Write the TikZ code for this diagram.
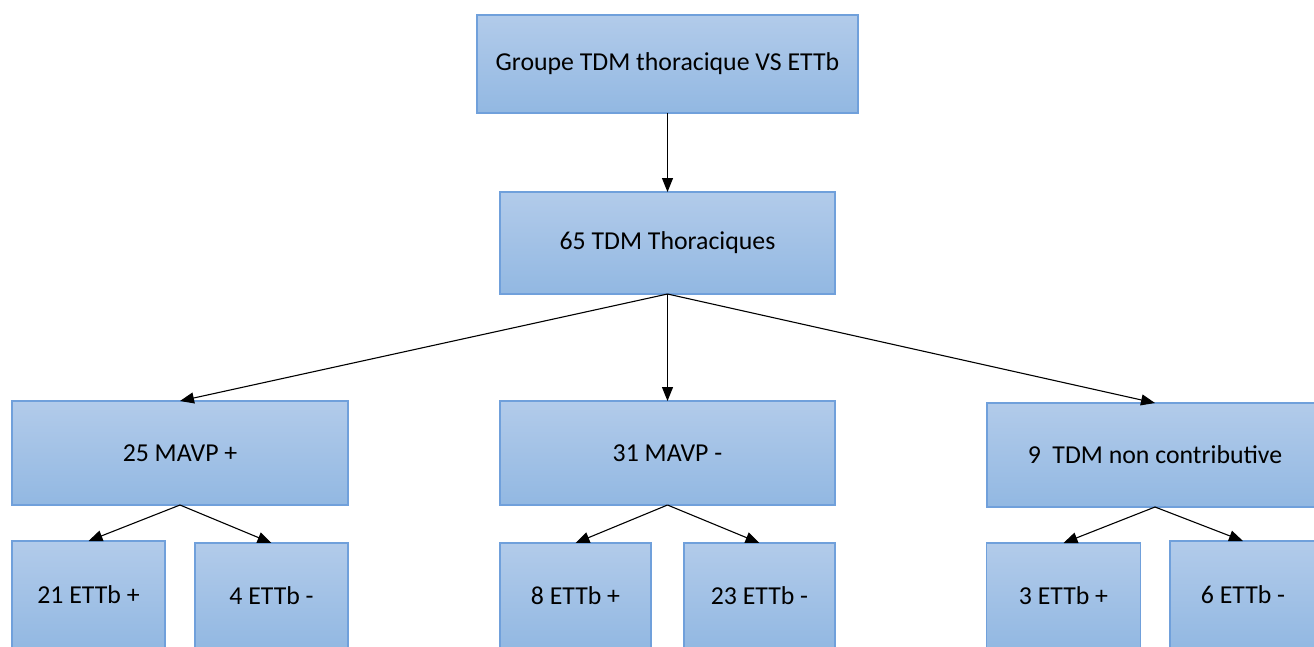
\documentclass[tikz,border=0pt]{standalone}
\usepackage{fontspec}
\setmainfont{Carlito}
\usetikzlibrary{arrows.meta}
\definecolor{boxtop}{RGB}{178,203,234}
\definecolor{boxbot}{RGB}{146,184,226}
\definecolor{boxline}{RGB}{112,160,219}
\tikzset{
  box/.style={rectangle, draw=boxline, line width=1.2pt, top color=boxtop, bottom color=boxbot,
    inner sep=0pt, outer sep=0pt, font=\fontsize{25.8}{30}\selectfont, text=black},
  conn/.style={line width=1.1pt, -{Triangle[length=14pt,width=11pt]}}
}
\begin{document}
\begin{tikzpicture}[x=1pt,y=-1pt]
\useasboundingbox (0,0) rectangle (1314,646);
\clip (0,0) rectangle (1314,646);
\fill[white] (0,0) rectangle (1314,646);
% nodes
\node[box, minimum width=381pt, minimum height=98pt] (top) at (667.5,64) {Groupe TDM thoracique VS ETTb};
\node[box, minimum width=335pt, minimum height=102pt] (tdm) at (667.5,243) {65 TDM Thoraciques};
\node[box, minimum width=336pt, minimum height=104pt] (mp) at (180,453) {25 MAVP +};
\node[box, minimum width=335pt, minimum height=104pt] (mm) at (667.5,453) {31 MAVP -};
\node[box, minimum width=336pt, minimum height=104pt] (nc) at (1155,455) {9\ \ TDM non contributive};
\node[box, minimum width=153pt, minimum height=108pt] (a1) at (88.5,595) {21 ETTb +};
\node[box, minimum width=153pt, minimum height=106pt] (a2) at (271.5,596) {4 ETTb -};
\node[box, minimum width=151pt, minimum height=106pt] (b1) at (575.5,596) {8 ETTb +};
\node[box, minimum width=151pt, minimum height=106pt] (b2) at (759.5,596) {23 ETTb -};
\node[box, minimum width=154pt, minimum height=106pt] (c1) at (1063.5,596) {3 ETTb +};
\node[box, minimum width=146pt, minimum height=108pt] (c2) at (1243,595) {6 ETTb -};
% connectors
\draw[conn] (top.south) -- (tdm.north);
\draw[conn] (tdm.south) -- (mp.north);
\draw[conn] (tdm.south) -- (mm.north);
\draw[conn] (tdm.south) -- (nc.north);
\draw[conn] (mp.south) -- (a1.north);
\draw[conn] (mp.south) -- (a2.north);
\draw[conn] (mm.south) -- (b1.north);
\draw[conn] (mm.south) -- (b2.north);
\draw[conn] (nc.south) -- (c1.north);
\draw[conn] (nc.south) -- (c2.north);
\end{tikzpicture}
\end{document}
